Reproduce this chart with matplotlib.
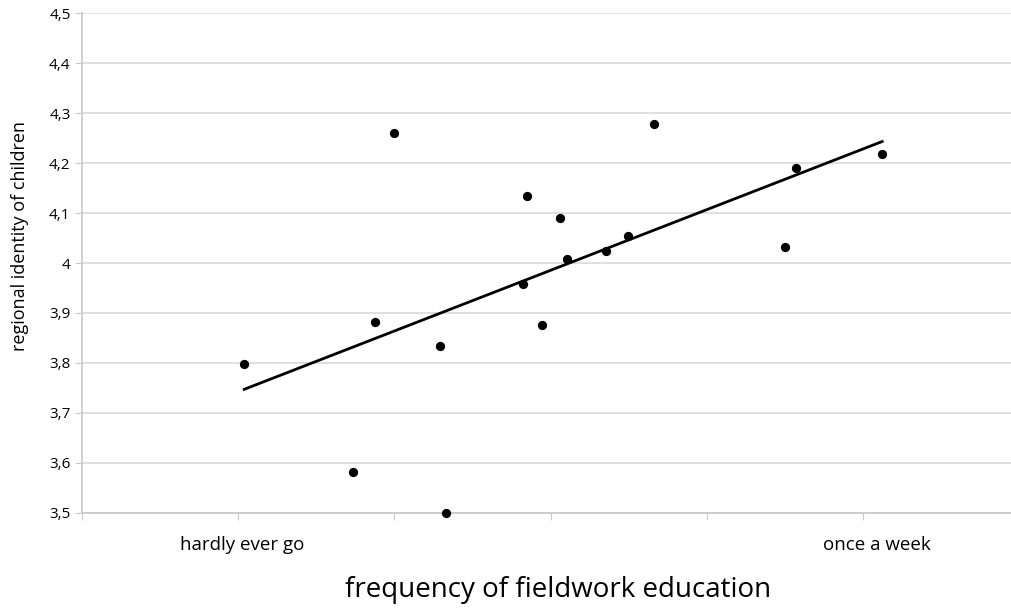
import matplotlib
matplotlib.use("Agg")
import matplotlib.pyplot as plt
import numpy as np

plt.rcParams['font.family'] = ['Open Sans', 'DejaVu Sans']

# frequency of fieldwork education (0..6 scale) vs regional identity
freq = [1.04, 1.736, 1.878, 1.996, 2.290, 2.331, 2.823, 2.847, 2.945,
        3.062, 3.103, 3.354, 3.497, 3.661, 4.498, 4.568, 5.122]
identity = [3.797, 3.582, 3.882, 4.260, 3.834, 3.500, 3.958, 4.134, 3.875,
            4.090, 4.009, 4.025, 4.055, 4.278, 4.032, 4.191, 4.219]

y_ticks = [3.5, 3.6, 3.7, 3.8, 3.9, 4.0, 4.1, 4.2, 4.3, 4.4, 4.5]
y_tick_labels = ['3,5', '3,6', '3,7', '3,8', '3,9', '4', '4,1', '4,2', '4,3', '4,4', '4,5']
cat_pos = [1.03, 5.09]
cat_labels = ['hardly ever go', 'once a week']

fig = plt.figure(figsize=(10.11, 6.08), dpi=100)
ax = fig.add_axes([0.0808, 0.1567, 0.9192, 0.8214])

ax.scatter(freq, identity, s=32, color='black', zorder=3, clip_on=False)

# linear trend line over the data range
k, b = np.polyfit(freq, identity, 1)
xs = np.array([min(freq), max(freq)])
ax.plot(xs, k * xs + b, color='black', lw=2.0, zorder=2)

ax.set_yticks(y_ticks, y_tick_labels)
ax.set_xticks(range(7), [''] * 7)
ax.set_xticks(cat_pos, cat_labels, minor=True)
ax.set_xlim(0, 5.946)
ax.set_ylim(3.5, 4.5)
ax.tick_params(axis='x', which='minor', length=0, pad=17, labelsize=13.5)
ax.tick_params(axis='x', which='major', length=5, color='#c8c8c8')
ax.tick_params(axis='y', length=5, color='#c8c8c8', labelsize=11, pad=3)

ax.grid(axis='y', color='#d9d9d9', lw=1.2)
ax.set_axisbelow(True)
for s in ['top', 'right']:
    ax.spines[s].set_visible(False)
for s in ['left', 'bottom']:
    ax.spines[s].set_color('#c8c8c8')
    ax.spines[s].set_linewidth(1.2)

ax.set_ylabel('regional identity of children', fontsize=13)
ax.yaxis.set_label_coords(-0.057, 0.554)
fig.text(0.552, 0.03, 'frequency of fieldwork education', fontsize=20,
         ha='center', va='center')

fig.savefig('out.png', dpi=100)
